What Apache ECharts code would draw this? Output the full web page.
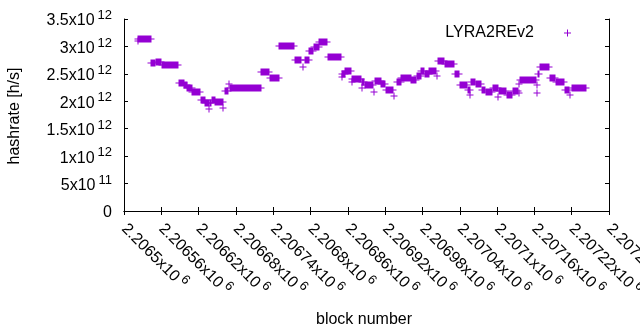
<!DOCTYPE html>
<html>
<head>
<meta charset="utf-8">
<script src="https://cdn.jsdelivr.net/npm/echarts@6/dist/echarts.min.js"></script>
<style>html,body{margin:0;padding:0;background:#fff}#c{width:640px;height:330px}</style>
</head>
<body>
<div id="c"></div>
<script>
// Runs of consecutive blocks sharing (approximately) the same hashrate
const runStart = [2206522,2206523,2206544,2206551,2206561,2206588,2206597,2206602,2206610,2206624,2206631,2206637,2206638,2206641,2206647,2206660,2206662,2206669,2206670,2206721,2206734,2206750,2206775,2206788,2206791,2206798,2206805,2206814,2206828,2206850,2206851,2206856,2206866,2206867,2206882,2206883,2206887,2206902,2206904,2206914,2206921,2206935,2206939,2206946,2206962,2206971,2206978,2206984,2206991,2207003,2207005,2207016,2207032,2207040,2207053,2207057,2207058,2207066,2207075,2207082,2207093,2207102,2207103,2207116,2207125,2207135,2207136,2207137,2207164,2207165,2207166,2207169,2207185,2207194,2207209,2207217,2207220];
const runEnd   = [2206522,2206543,2206550,2206560,2206587,2206596,2206601,2206609,2206623,2206630,2206636,2206637,2206640,2206646,2206659,2206660,2206668,2206669,2206720,2206733,2206749,2206774,2206785,2206788,2206797,2206804,2206813,2206827,2206849,2206850,2206855,2206865,2206866,2206881,2206882,2206886,2206901,2206902,2206913,2206920,2206933,2206935,2206945,2206961,2206970,2206977,2206983,2206990,2207002,2207003,2207015,2207031,2207039,2207052,2207056,2207057,2207065,2207074,2207081,2207092,2207101,2207102,2207115,2207124,2207134,2207135,2207136,2207163,2207164,2207165,2207168,2207184,2207193,2207208,2207216,2207217,2207243];
// hashrate in units of 10^12 h/s
const hashrate = [3.10,3.13,2.70,2.72,2.656,2.33,2.29,2.24,2.17,2.03,1.97,1.86,1.97,2.03,1.98,1.87,2.18,2.31,2.237,2.53,2.42,3.00,2.75,2.62,2.75,2.917,2.99,3.08,2.815,2.45,2.50,2.55,2.35,2.41,2.24,2.357,2.30,2.175,2.364,2.324,2.206,2.10,2.357,2.42,2.388,2.46,2.557,2.50,2.557,2.46,2.74,2.68,2.49,2.29,2.206,2.11,2.357,2.315,2.206,2.175,2.237,2.08,2.18,2.115,2.19,2.31,2.145,2.388,2.145,2.30,2.50,2.63,2.42,2.346,2.206,2.115,2.237];

const seriesName = 'LYRA2REv2';
const xTitle = 'block number';
const yTitle = 'hashrate [h/s]';
const xMin = 2206500, xMax = 2207280, xStep = 60;
const yMin = 0, yMax = 3.5, yStep = 0.5;

const FONT = '"Liberation Sans", Arial, sans-serif';
const data = runStart.map((s, i) => [s, runEnd[i], hashrate[i]]);

function sci(mant, exp, pre) {
  return '{' + pre + '|' + mant + 'x10}{s|' + exp + '}';
}
function yFmt(v) {
  if (v === 0) return '{m|0}';
  const real = v * 1e12;
  const e = Math.floor(Math.log10(real) + 1e-9);
  const m = +(real / Math.pow(10, e)).toPrecision(6);
  return sci(m, e, 'm');
}
function xFmt(v) {
  let m = (v / 1e6).toFixed(5).replace(/0+$/, '').replace(/\.$/, '');
  return sci(m, 6, 'mx');
}
const rich = {
  m: {fontSize: 16, fontFamily: FONT, color: '#000', lineHeight: 20, verticalAlign: 'bottom'},
  mx: {fontSize: 16, fontFamily: FONT, color: '#000', lineHeight: 20, verticalAlign: 'bottom', padding: [0, 0, 0, 2]},
  s: {fontSize: 13, fontFamily: FONT, color: '#000', lineHeight: 12, verticalAlign: 'top', padding: [0, 0, 0, 3]}
};
const lineStyle = {color: '#000', width: 1};

const chart = echarts.init(document.getElementById('c'), null, {renderer: 'canvas'});
chart.setOption({
  animation: false,
  backgroundColor: '#fff',
  grid: {left: 124, right: 31, top: 19, bottom: 119, containLabel: false, outerBoundsMode: 'none'},
  legend: {
    data: [{name: seriesName, icon: 'path://M0,3H7V4H0Z M3,0H4V7H3Z'}],
    align: 'right', right: 64, top: 20, itemWidth: 7, itemHeight: 7,
    textStyle: {fontSize: 16, fontFamily: FONT, color: '#000', padding: [0, 25, 0, 0]}
  },
  xAxis: [{
    type: 'value', min: xMin, max: xMax, interval: xStep, position: 'bottom',
    axisLine: {show: true, lineStyle}, axisTick: {show: true, inside: true, length: 4, lineStyle},
    splitLine: {show: false},
    axisLabel: {rotate: -45, margin: 12.5, formatter: xFmt, rich: rich, showMaxLabel: true, showMinLabel: true}
  }, {
    type: 'value', min: xMin, max: xMax, interval: xStep, position: 'top',
    axisLine: {show: true, lineStyle}, axisTick: {show: true, inside: true, length: 4, lineStyle},
    splitLine: {show: false}, axisLabel: {show: false}
  }],
  yAxis: [{
    type: 'value', min: yMin, max: yMax, interval: yStep, position: 'left',
    axisLine: {show: true, lineStyle}, axisTick: {show: true, inside: true, length: 4, lineStyle},
    splitLine: {show: false},
    axisLabel: {margin: 12, formatter: yFmt, rich: rich}
  }, {
    type: 'value', min: yMin, max: yMax, interval: yStep, position: 'right',
    axisLine: {show: true, lineStyle}, axisTick: {show: true, inside: true, length: 4, lineStyle},
    splitLine: {show: false}, axisLabel: {show: false}
  }],
  series: [{
    name: seriesName,
    type: 'custom',
    xAxisIndex: 0, yAxisIndex: 0,
    itemStyle: {color: '#9400d3'},
    encode: {x: [0, 1], y: 2},
    data: data,
    renderItem: function (params, api) {
      const p0 = api.coord([api.value(0), api.value(2)]);
      const p1 = api.coord([api.value(1), api.value(2)]);
      const color = api.visual('color');
      const x0 = Math.round(p0[0]) - 0.5, x1 = Math.round(p1[0]) - 0.5, y = Math.round(p0[1]);
      return {
        type: 'group',
        children: [
          {type: 'rect', shape: {x: x0, y: y - 3.5, width: x1 - x0 + 1, height: 7}, style: {fill: color}},
          {type: 'rect', shape: {x: x0 - 3, y: y - 0.5, width: x1 - x0 + 7, height: 1}, style: {fill: color}}
        ]
      };
    }
  }],
  graphic: [
    {type: 'text', x: 15, y: 116, rotation: Math.PI / 2,
     style: {text: yTitle, font: '16px ' + FONT, fill: '#000', align: 'center', verticalAlign: 'middle', textAlign: 'center', textVerticalAlign: 'middle'}},
    {type: 'text', x: 364, y: 320,
     style: {text: xTitle, font: '16px ' + FONT, fill: '#000', align: 'center', verticalAlign: 'middle', textAlign: 'center', textVerticalAlign: 'middle'}}
  ]
});
</script>
</body>
</html>
